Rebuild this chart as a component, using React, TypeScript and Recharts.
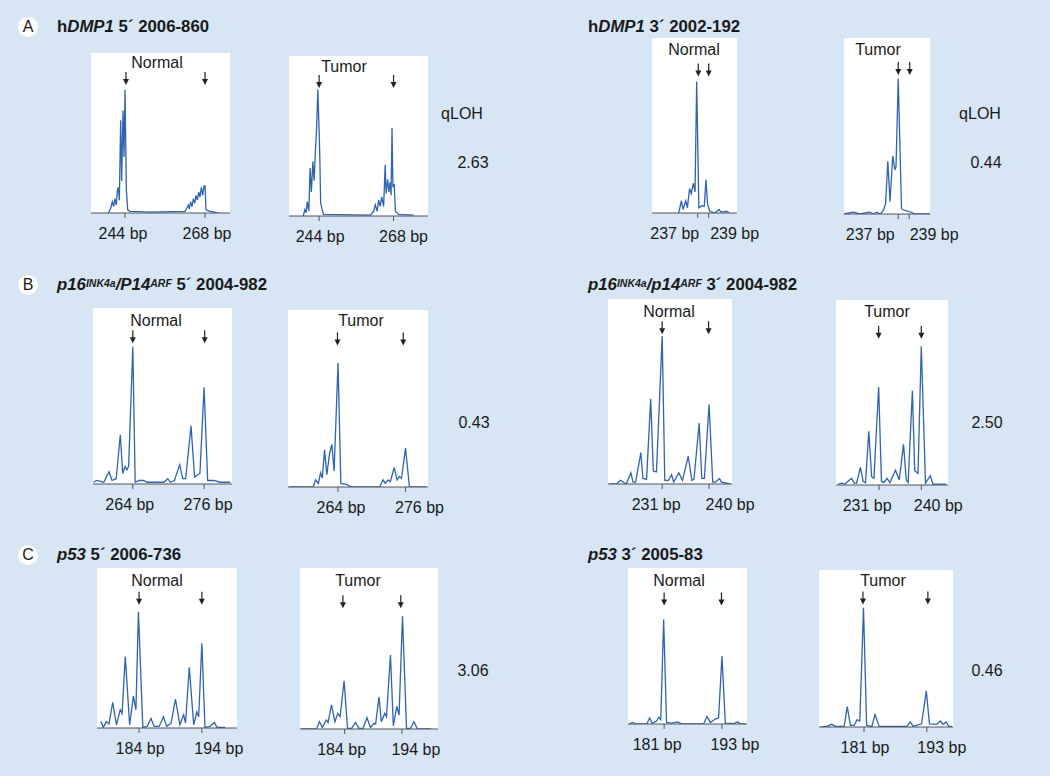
import React from 'react';
import { LineChart, Line, XAxis, YAxis, ReferenceDot } from 'recharts';

const FONT = '"Liberation Sans", Arial, Helvetica, sans-serif';
const BG = '#d6e6f5';
const TRACE = '#2f64b0';

// traces: [fragment size in bp, relative signal in % of panel height]
const dmp1FiveNormal = [
  [239.0, 0], [239.7, 3], [240.2, 7], [240.6, 4], [241.0, 9], [241.4, 5], [241.7, 14], [242.0, 16],
  [242.3, 8], [242.7, 58], [243.0, 20], [243.4, 64], [243.7, 35], [244.0, 77], [244.4, 15], [244.8, 2],
  [245.5, 1], [251.5, 0.5], [262.0, 1], [262.5, 3], [263.0, 5], [263.3, 2.5], [263.7, 7], [264.1, 4],
  [264.5, 9], [264.9, 6], [265.3, 11], [265.7, 8], [266.1, 13], [266.5, 10], [266.9, 16], [267.3, 11],
  [267.7, 17], [268.0, 17], [268.3, 2], [269.5, 1], [272.0, 0],
];
const dmp1FiveTumor = [
  [238.9, 0], [239.4, 4], [239.8, 2], [240.2, 9], [240.7, 3], [241.1, 30], [241.5, 15], [242.0, 34],
  [242.4, 22], [242.8, 40], [243.2, 55], [243.6, 79], [243.9, 60], [244.2, 40], [244.5, 8], [245.0, 4],
  [245.4, 1], [260.5, 0.5], [261.6, 3], [262.1, 7], [262.7, 3], [263.2, 10], [263.7, 6], [264.2, 12],
  [264.8, 6], [265.3, 32], [265.6, 14], [266.1, 23], [266.5, 15], [266.9, 21], [267.2, 13], [267.5, 55],
  [267.8, 18], [268.2, 20], [268.6, 3], [269.6, 1], [274.5, 0.5],
];
const dmp1ThreeNormal = [
  [233.5, 0], [234.0, 7], [234.3, 2], [234.8, 7], [235.1, 3], [235.5, 14], [235.8, 11], [236.2, 17],
  [236.5, 12], [236.8, 75], [237.2, 3], [237.7, 4], [238.2, 4], [238.5, 19], [238.8, 5], [239.2, 1],
  [240.2, 0], [240.9, 2], [241.3, 0.5], [242.3, 1], [242.8, 0],
];
const dmp1ThreeTumor = [
  [227.1, 0], [228.8, 1], [230.0, 0], [231.8, 1], [232.5, 0], [233.1, 1], [233.7, 0], [234.3, 2],
  [234.7, 6], [235.1, 30], [235.5, 7], [236.0, 33], [236.4, 25], [236.6, 27], [237.0, 77], [237.6, 3],
  [238.2, 2], [239.4, 1], [240.0, 0], [242.8, 0],
];
const p16FiveNormal = [
  [257.4, 1], [257.9, 2], [259.1, 1], [260.0, 7], [260.5, 2], [261.2, 3], [261.9, 28], [262.3, 6],
  [262.7, 10], [263.0, 8], [263.3, 10], [264.0, 78], [264.4, 1], [265.0, 2], [265.8, 2], [266.4, 1],
  [269.2, 1], [269.9, 3], [270.3, 1], [271.0, 2], [271.9, 11], [272.4, 3], [272.9, 3], [273.8, 33],
  [274.4, 4], [274.8, 5], [275.3, 6], [276.0, 55], [276.6, 2], [277.6, 2], [278.7, 1], [279.5, 1],
  [280.4, 1],
];
const p16FiveTumor = [
  [255.4, 0], [259.6, 0], [260.0, 4], [260.5, 2], [260.9, 8], [261.2, 5], [261.6, 21], [262.0, 7],
  [262.5, 19], [262.9, 24], [263.3, 9], [264.0, 70], [264.5, 2], [265.5, 1.5], [266.4, 0], [271.4, 0],
  [272.0, 4], [272.4, 2], [272.9, 4], [273.3, 3], [274.0, 11], [274.5, 4], [274.9, 6], [275.3, 5],
  [276.0, 22], [276.7, 0], [279.7, 0],
];
const p16ThreeNormal = [
  [220.9, 0], [222.2, 0], [223.0, 2], [224.1, 0], [225.0, 6], [225.4, 1], [225.9, 1], [226.9, 17],
  [227.3, 3], [228.0, 2.5], [228.8, 46], [229.3, 7], [229.9, 6.5], [231.0, 80], [231.5, 2], [232.2, 2],
  [232.8, 5], [233.2, 1], [234.2, 6], [234.9, 2], [236.0, 15], [236.7, 2], [237.1, 2.5], [238.1, 33],
  [238.6, 3], [239.1, 3], [240.0, 43], [240.7, 1], [241.2, 1], [242.0, 3], [242.4, 1], [244.0, 0],
];
const p16ThreeTumor = [
  [222.3, 0.5], [223.0, 1], [223.7, 0.5], [225.1, 3.6], [225.7, 1], [226.2, 1], [227.0, 9.5], [227.6, 2],
  [228.1, 1.3], [228.8, 29], [229.4, 4.5], [229.9, 3.6], [230.9, 53], [231.5, 2], [232.0, 1.3], [232.7, 3.6],
  [233.3, 1.3], [234.5, 8], [235.3, 2.7], [236.2, 22], [236.8, 2.7], [237.2, 1.3], [238.1, 51], [238.6, 7.7],
  [239.3, 6.3], [240.0, 75], [240.9, 1], [241.9, 5], [242.5, 0.5], [245.3, 0.5],
];
const p53FiveNormal = [
  [177.9, 4], [178.3, 0.4], [178.8, 4], [179.2, 2.5], [179.8, 16], [180.4, 2], [181.0, 11.4], [181.3, 9],
  [181.8, 44.6], [182.5, 2], [183.1, 20], [183.5, 11.4], [183.9, 72.6], [184.6, 0.4], [185.3, 1], [185.9, 6],
  [186.4, 1], [187.2, 1], [187.9, 7], [188.4, 1], [189.1, 3], [189.8, 18], [190.5, 2], [191.1, 8.3],
  [191.4, 3], [192.0, 38], [192.7, 2], [193.2, 10], [193.5, 7], [194.0, 53], [194.5, 0.4], [195.3, 1],
  [196.0, 3.5], [196.4, 0.4], [197.7, 0.4],
];
const p53FiveTumor = [
  [176.4, 0], [179.1, 0], [179.6, 4.5], [180.1, 1], [180.8, 5.6], [181.1, 4], [181.7, 15], [182.3, 4.5],
  [182.8, 9.7], [183.2, 7.6], [183.9, 30], [184.5, 0.4], [185.2, 0.4], [185.9, 4], [186.5, 0.4], [187.2, 0.4],
  [187.9, 7], [188.5, 1], [189.1, 3.5], [189.4, 3], [190.0, 20], [190.4, 4.5], [191.0, 9.7], [191.3, 7.6],
  [192.0, 46], [192.5, 2], [193.1, 14], [193.5, 8.7], [194.1, 70], [194.8, 0.4], [195.5, 0.4], [196.1, 4.5],
  [196.7, 0], [199.1, 0],
];
const p53ThreeNormal = [
  [173.8, 0], [174.4, 1], [175.1, 0], [177.4, 0], [178.0, 4], [178.5, 0.6], [179.4, 1.7], [179.9, 4.3],
  [180.3, 2.8], [180.9, 67], [181.5, 1], [182.5, 0.6], [183.9, 1.3], [184.6, 0], [189.2, 0], [189.9, 4.9],
  [190.6, 1], [191.6, 3.2], [192.3, 3.8], [193.0, 43.6], [193.7, 0.6], [195.4, 0.2], [196.3, 1.5], [196.8, 0],
  [197.9, 0],
];
const p53ThreeTumor = [
  [172.8, 0], [173.9, 0.4], [174.8, 1.7], [175.6, 0.4], [177.2, 0.4], [177.8, 13], [178.4, 1], [179.1, 1],
  [179.7, 4.7], [180.2, 3.8], [180.9, 76], [181.5, 1], [182.5, 0.4], [183.1, 7.9], [183.9, 0.4], [186.9, 0.4],
  [189.2, 0.4], [189.8, 3.2], [190.4, 0.4], [192.0, 2], [192.9, 23], [193.5, 2], [194.9, 1.7], [195.6, 3.8],
  [196.1, 1.7], [196.7, 3.2], [197.2, 0.4], [197.8, 0.4],
];

const qlohValues = ['2.63', '0.44', '0.43', '2.50', '3.06', '0.46'];

type PanelSpec = {
  trace: number[][];
  left: number;
  top: number;
  width: number;
  plotH: number;
  domain: [number, number];
  ticks: number[];
  arrows: number[];
  arrowTip: number;
  name: string;
  nameX: number;
  nameY: number;
  labelDx: number[];
};

const panels: PanelSpec[] = [
  { trace: dmp1FiveNormal, left: 91, top: 53, width: 139, plotH: 160, domain: [233.8, 275.5], ticks: [244, 268], arrows: [244.3, 268], arrowTip: 80, name: 'Normal', nameX: 157, nameY: 63, labelDx: [-2, 2] },
  { trace: dmp1FiveTumor, left: 289, top: 56, width: 139, plotH: 160, domain: [234.3, 279.1], ticks: [244, 268], arrows: [244, 268], arrowTip: 80, name: 'Tumor', nameX: 344, nameY: 67, labelDx: [1, 10] },
  { trace: dmp1ThreeNormal, left: 652, top: 38, width: 85, plotH: 175, domain: [228.6, 244.2], ticks: [237, 239], arrows: [237.1, 239], arrowTip: 78, name: 'Normal', nameX: 694, nameY: 50, labelDx: [-23, 26] },
  { trace: dmp1ThreeTumor, left: 844, top: 38, width: 86, plotH: 176, domain: [227.1, 242.8], ticks: [237, 239], arrows: [237, 239.1], arrowTip: 79, name: 'Tumor', nameX: 878, nameY: 50, labelDx: [-28, 25] },
  { trace: p16FiveNormal, left: 93, top: 308, width: 139, plotH: 176, domain: [257.3, 280.7], ticks: [264, 276], arrows: [264, 276.1], arrowTip: 80, name: 'Normal', nameX: 156, nameY: 321, labelDx: [-3, 4] },
  { trace: p16FiveTumor, left: 288, top: 310, width: 140, plotH: 177, domain: [255.1, 280.0], ticks: [264, 276], arrows: [263.9, 275.6], arrowTip: 80, name: 'Tumor', nameX: 361, nameY: 321, labelDx: [3, 14] },
  { trace: p16ThreeNormal, left: 608, top: 299, width: 124, plotH: 185, domain: [220.6, 244.4], ticks: [231, 240], arrows: [231, 239.9], arrowTip: 81, name: 'Normal', nameX: 669, nameY: 312, labelDx: [-6, 21] },
  { trace: p16ThreeTumor, left: 836, top: 300, width: 112, plotH: 185, domain: [221.8, 245.7], ticks: [231, 240], arrows: [230.9, 240], arrowTip: 79, name: 'Tumor', nameX: 887, nameY: 312, labelDx: [-12, 17] },
  { trace: p53FiveNormal, left: 97, top: 568, width: 140, plotH: 160, domain: [177.3, 199.6], ticks: [184, 194], arrows: [184, 194], arrowTip: 77, name: 'Normal', nameX: 157, nameY: 581, labelDx: [1, 17] },
  { trace: p53FiveTumor, left: 300, top: 568, width: 138, plotH: 161, domain: [176.2, 200.3], ticks: [184, 194], arrows: [183.7, 193.8], arrowTip: 75, name: 'Tumor', nameX: 358, nameY: 581, labelDx: [-3, 14] },
  { trace: p53ThreeNormal, left: 628, top: 568, width: 119, plotH: 156, domain: [173.5, 198.2], ticks: [181, 193], arrows: [181, 192.9], arrowTip: 76, name: 'Normal', nameX: 679, nameY: 581, labelDx: [-7, 13] },
  { trace: p53ThreeTumor, left: 819, top: 570, width: 134, plotH: 157, domain: [172.4, 198.0], ticks: [181, 193], arrows: [180.8, 193.2], arrowTip: 78, name: 'Tumor', nameX: 883, nameY: 581, labelDx: [1, 15] },
];

const PAD = 40;
const AXIS_H = 40;

function BpTick(props: any) {
  const { x, y, payload, index, labelDx } = props;
  const dx = labelDx ? labelDx[index] ?? 0 : 0;
  return (
    <text x={x + dx} y={y} dy="0.71em" textAnchor="middle" fontSize={16} fill="#1a1a1a" fontFamily={FONT}>
      {`${payload.value} bp`}
    </text>
  );
}

const arrowShape = (p: any) => {
  const { cx, cy } = p;
  return (
    <g>
      <line x1={cx} y1={cy - 13} x2={cx} y2={cy - 5} stroke="#222" strokeWidth={1.2} />
      <path d={`M${cx - 3},${cy - 6}L${cx + 3},${cy - 6}L${cx},${cy}Z`} fill="#222" />
    </g>
  );
};

function Panel({ p }: { p: PanelSpec }) {
  const data = p.trace.map(([bp, v]) => ({ bp, v }));
  return (
    <>
      <div style={{ position: 'absolute', left: p.left, top: p.top, width: p.width, height: p.plotH, background: '#fff' }} />
      <div style={{ position: 'absolute', left: p.left - PAD, top: p.top }}>
        <LineChart width={p.width + PAD * 2} height={p.plotH + AXIS_H} data={data} margin={{ top: 0, right: PAD, bottom: 0, left: PAD }}>
          <XAxis
            dataKey="bp"
            type="number"
            domain={p.domain}
            ticks={p.ticks}
            allowDataOverflow
            height={AXIS_H}
            axisLine={{ stroke: '#555', strokeWidth: 1.2 }}
            tickLine={{ stroke: '#555', strokeWidth: 1 }}
            tickSize={5}
            tickMargin={10}
            tick={<BpTick labelDx={p.labelDx} />}
            interval={0}
          />
          <YAxis hide domain={[0, 100]} allowDataOverflow />
          <Line type="linear" dataKey="v" stroke={TRACE} strokeWidth={1.3} dot={false} isAnimationActive={false} />
          {p.arrows.map((a, i) => (
            <ReferenceDot key={i} x={a} y={p.arrowTip} r={3} shape={arrowShape} ifOverflow="visible" />
          ))}
        </LineChart>
      </div>
      <Txt x={p.nameX} y={p.nameY} anchor="middle">{p.name}</Txt>
    </>
  );
}

function Txt({ x, y, anchor = 'start', bold = false, size = 16, children }: any) {
  const tx = anchor === 'middle' ? '-50%' : anchor === 'end' ? '-100%' : '0';
  return (
    <div
      style={{
        position: 'absolute', left: x, top: y, transform: `translate(${tx}, -50%)`,
        fontSize: size, lineHeight: '18px', fontWeight: bold ? 700 : 400, whiteSpace: 'nowrap', color: '#1a1a1a',
      }}
    >
      {children}
    </div>
  );
}

function Badge({ x, y, letter }: { x: number; y: number; letter: string }) {
  return (
    <div
      style={{
        position: 'absolute', left: x - 10, top: y - 10, width: 20, height: 20, borderRadius: 10, background: '#fff',
        fontSize: 16, lineHeight: '20px', textAlign: 'center', color: '#1a1a1a',
      }}
    >
      {letter}
    </div>
  );
}

const sup: React.CSSProperties = { fontSize: 10.5, verticalAlign: 'top', position: 'relative', top: -2 };

export default function App() {
  return (
    <div style={{ position: 'absolute', left: 0, top: 0, width: 1050, height: 776, background: BG, fontFamily: FONT, overflow: 'hidden' }}>
      <Badge x={28} y={27} letter="A" />
      <Badge x={28} y={285} letter="B" />
      <Badge x={28} y={555} letter="C" />

      <Txt x={57} y={27} bold size={16.8}>h<i>DMP1</i> 5´ 2006-860</Txt>
      <Txt x={588} y={27} bold size={16.8}>h<i>DMP1</i> 3´ 2002-192</Txt>
      <Txt x={57} y={285} bold size={16.8}><i>p16<span style={sup}>INK4a</span>/P14<span style={sup}>ARF</span></i> 5´ 2004-982</Txt>
      <Txt x={588} y={285} bold size={16.8}><i>p16<span style={sup}>INK4a</span>/p14<span style={sup}>ARF</span></i> 3´ 2004-982</Txt>
      <Txt x={57} y={555} bold size={16.8}><i>p53</i> 5´ 2006-736</Txt>
      <Txt x={588} y={555} bold size={16.8}><i>p53</i> 3´ 2005-83</Txt>

      {panels.map((p, i) => <Panel key={i} p={p} />)}

      <Txt x={462} y={114} anchor="middle">qLOH</Txt>
      <Txt x={980} y={114} anchor="middle">qLOH</Txt>
      <Txt x={473} y={163} anchor="middle">{qlohValues[0]}</Txt>
      <Txt x={986} y={163} anchor="middle">{qlohValues[1]}</Txt>
      <Txt x={474} y={423} anchor="middle">{qlohValues[2]}</Txt>
      <Txt x={987} y={423} anchor="middle">{qlohValues[3]}</Txt>
      <Txt x={473} y={671} anchor="middle">{qlohValues[4]}</Txt>
      <Txt x={987} y={671} anchor="middle">{qlohValues[5]}</Txt>
    </div>
  );
}
